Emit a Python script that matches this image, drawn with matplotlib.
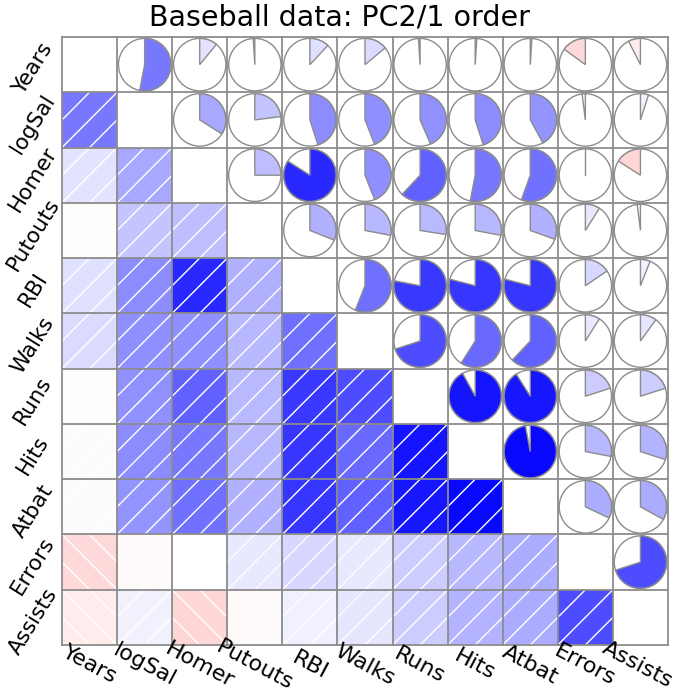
import numpy as np
import matplotlib
matplotlib.use("Agg")
import matplotlib.pyplot as plt
from matplotlib.patches import Wedge, Circle, Rectangle

variables = ["Years", "logSal", "Homer", "Putouts", "RBI", "Walks",
             "Runs", "Hits", "Atbat", "Errors", "Assists"]

# upper-triangle correlations, row by row (pairs i<j)
r_years   = [0.53, 0.11, -0.01, 0.12, 0.14, -0.01, 0.01, 0.01, -0.15, -0.075]
r_logsal  = [0.34, 0.23, 0.45, 0.44, 0.435, 0.45, 0.42, -0.02, 0.05]
r_homer   = [0.25, 0.84, 0.44, 0.62, 0.53, 0.555, 0.0, -0.16]
r_putouts = [0.31, 0.28, 0.275, 0.28, 0.305, 0.09, -0.02]
r_rbi     = [0.56, 0.78, 0.79, 0.79, 0.155, 0.06]
r_walks   = [0.70, 0.59, 0.62, 0.09, 0.10]
r_runs    = [0.92, 0.91, 0.20, 0.20]
r_hits    = [0.97, 0.28, 0.30]
r_atbat   = [0.32, 0.33]
r_errors  = [0.70]

title = "Baseball data: PC2/1 order"

rows = [r_years, r_logsal, r_homer, r_putouts, r_rbi, r_walks,
        r_runs, r_hits, r_atbat, r_errors]
n = len(variables)
R = np.eye(n)
for i, vals in enumerate(rows):
    for k, v in enumerate(vals):
        j = i + 1 + k
        R[i, j] = v
        R[j, i] = v


def corr_color(r):
    a = min(abs(r), 1.0)
    if r >= 0:
        return (1 - a, 1 - a, 1.0)
    return (1.0, 1 - a, 1 - a)


W, H = 679, 698
fig = plt.figure(figsize=(W / 100, H / 100), dpi=100)
L, Rr, T, B = 62, 668, 37, 645
ax = fig.add_axes([L / W, 1 - B / H, (Rr - L) / W, (B - T) / H])
ax.set_xlim(0, n)
ax.set_ylim(n, 0)
ax.axis("off")

grid_col = "#8c8c8c"

for i in range(n):
    for j in range(n):
        x0, y0 = j, i
        if i == j:
            continue
        r = R[i, j]
        if i > j:
            rect = Rectangle((x0, y0), 1, 1, facecolor=corr_color(r),
                             edgecolor="none", zorder=1)
            ax.add_patch(rect)
            clip = Rectangle((x0, y0), 1, 1, transform=ax.transData)
            for c in (-0.5, 0.0, 0.5):
                t = np.array([-0.2, 1.2])
                xs = x0 + t
                if r >= 0:
                    ys = y0 + 1 - (t + c)
                else:
                    ys = y0 + (t + c)
                ln, = ax.plot(xs, ys, color="white", lw=1.0, zorder=2)
                ln.set_clip_path(clip)
        else:
            cx, cy = x0 + 0.5, y0 + 0.5
            rad = 0.475
            circ = Circle((cx, cy), rad, facecolor="white", edgecolor=grid_col,
                          lw=1.0, zorder=2)
            ax.add_patch(circ)
            ang = abs(r) * 360
            if r >= 0:
                th1, th2 = 270, 270 + ang
            else:
                th1, th2 = 270 - ang, 270
            if ang > 0.3:
                wd = Wedge((cx, cy), rad, th1, th2, facecolor=corr_color(r),
                           edgecolor=grid_col, lw=1.0, zorder=3)
                ax.add_patch(wd)
            else:
                ax.plot([cx, cx], [cy, cy - rad], color=grid_col, lw=1.0, zorder=3)

for k in range(n + 1):
    ax.plot([k, k], [0, n], color=grid_col, lw=1.3, zorder=5, clip_on=False)
    ax.plot([0, n], [k, k], color=grid_col, lw=1.3, zorder=5, clip_on=False)

fam = "DejaVu Sans"
cell_w = (Rr - L) / n
cell_h = (B - T) / n
for k, name in enumerate(variables):
    yc = T + (k + 0.5) * cell_h + 4
    fig.text(33 / W, 1 - yc / H, name, rotation=58, ha="center", va="center",
             rotation_mode="anchor", fontsize=15.5, family=fam)
    xc = L + (k + 0.5) * cell_w
    if k == n - 1:
        xc -= 3
    fig.text(xc / W, 1 - 665 / H, name, rotation=-28, ha="center", va="center",
             rotation_mode="anchor", fontsize=16, family=fam)

fig.text(0.5, 1 - 18 / H, title, ha="center", va="center",
         fontsize=20.5, family=fam)

fig.savefig("out.png", dpi=100)
